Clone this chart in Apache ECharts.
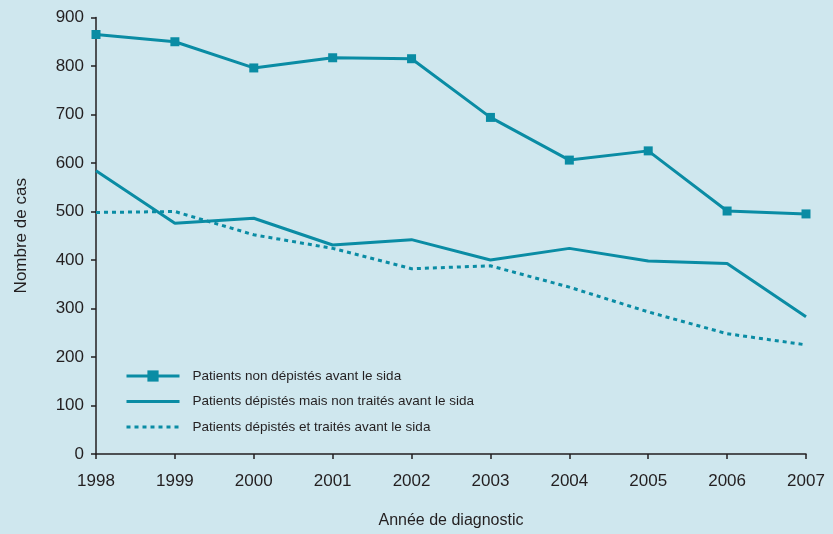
<!DOCTYPE html>
<html><head><meta charset="utf-8">
<script src="https://cdn.jsdelivr.net/npm/echarts@6/dist/echarts.min.js"></script>
<style>html,body{margin:0;padding:0;background:#cfe7ee}#c{width:833px;height:534px}</style>
</head><body><div id="c"></div>
<script>
const years = ['1998','1999','2000','2001','2002','2003','2004','2005','2006','2007'];
const nonDepistes = [865, 850, 796, 817, 815, 694, 606, 625, 501, 495];
const depistesNonTraites = [584, 476, 486, 431, 442, 400, 424, 398, 393, 283];
const depistesTraites = [498, 500, 452, 424, 382, 388, 344, 293, 248, 225];
const seriesNames = ['Patients non dépistés avant le sida','Patients dépistés mais non traités avant le sida','Patients dépistés et traités avant le sida'];
const yTicks = [0,100,200,300,400,500,600,700,800,900];

const font = "'Liberation Sans Narrow','Liberation Sans',sans-serif";
const col = '#0a8ca4';
const txt = '#231f20';
const chart = echarts.init(document.getElementById('c'));
chart.setOption({
  backgroundColor: '#cfe7ee',
  animation: false,
  grid: {left: 96, right: 27, top: 17.5, bottom: 72.7, containLabel: false},
  legend: {
    orient: 'vertical', left: 120, top: 364, itemWidth: 53, itemHeight: 14, itemGap: 11.5,
    textStyle: {fontFamily: font, fontSize: 13.5, color: txt, padding: [0,0,0,8]},
    data: [
      {name: seriesNames[0], lineStyle: {width: 3}},
      {name: seriesNames[1], lineStyle: {width: 3}, itemStyle: {opacity: 0}},
      {name: seriesNames[2], lineStyle: {width: 3}, itemStyle: {opacity: 0}}
    ]
  },
  xAxis: {
    type: 'category', data: years, boundaryGap: false,
    name: 'Année de diagnostic', nameLocation: 'middle', nameGap: 59,
    nameTextStyle: {fontFamily: font, fontSize: 16, color: txt},
    axisLine: {lineStyle: {color: txt, width: 1.5}},
    axisTick: {show: true, length: 5, lineStyle: {color: txt, width: 1.5}, alignWithLabel: true},
    axisLabel: {fontFamily: font, fontSize: 17, color: txt, margin: 19},
    splitLine: {show: false}
  },
  yAxis: {
    type: 'value', min: yTicks[0], max: yTicks[yTicks.length-1], interval: 100,
    name: 'Nombre de cas', nameLocation: 'middle', nameGap: 66, nameRotate: 90,
    nameTextStyle: {fontFamily: font, fontSize: 17, color: txt},
    axisLine: {show: true, lineStyle: {color: txt, width: 1.5}},
    axisTick: {show: true, length: 5, lineStyle: {color: txt, width: 1.5}},
    axisLabel: {fontFamily: font, fontSize: 17, color: txt, margin: 12},
    splitLine: {show: false}
  },
  series: [
    {name: seriesNames[0], type: 'line', data: nonDepistes, symbol: 'rect', symbolSize: 9,
     itemStyle: {color: col}, lineStyle: {color: col, width: 3}},
    {name: seriesNames[1], type: 'line', data: depistesNonTraites, symbol: 'none',
     itemStyle: {color: col}, lineStyle: {color: col, width: 3}},
    {name: seriesNames[2], type: 'line', data: depistesTraites, symbol: 'none',
     itemStyle: {color: col}, lineStyle: {color: col, width: 3, type: [4,4]}}
  ]
});
</script></body></html>
